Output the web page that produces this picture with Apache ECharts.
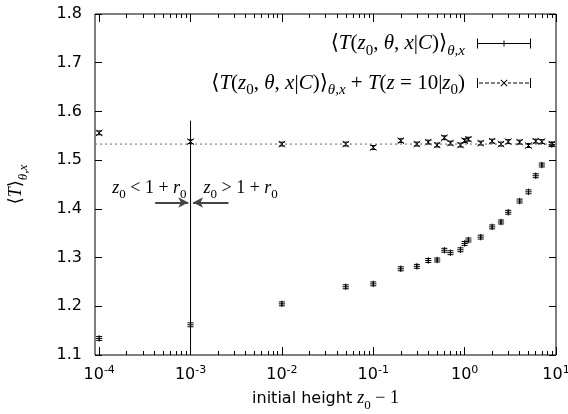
<!DOCTYPE html>
<html><head><meta charset="utf-8">
<script src="https://cdn.jsdelivr.net/npm/echarts@6/dist/echarts.min.js"></script>
<style>html,body{margin:0;padding:0;background:#fff}#c{width:568px;height:414px}</style>
</head><body><div id="c"></div>
<script>
// initial heights z0 - 1
const heights = [1e-4, 1e-3, 1e-2, 0.05, 0.1, 0.2, 0.3, 0.4, 0.5, 0.6, 0.7, 0.9, 1.0, 1.1, 1.5, 2, 2.5, 3, 4, 5, 6, 7, 9];
// <T(z0,theta,x|C)>_{theta,x}
const meanT = [1.134, 1.162, 1.205, 1.240, 1.246, 1.277, 1.282, 1.294, 1.295, 1.315, 1.310, 1.316, 1.329, 1.336, 1.342, 1.363, 1.373, 1.393, 1.416, 1.435, 1.468, 1.490, 1.532];
const meanTErr = [0.004, 0.004, 0.004, 0.004, 0.004, 0.004, 0.004, 0.004, 0.004, 0.004, 0.004, 0.004, 0.004, 0.004, 0.004, 0.004, 0.004, 0.004, 0.004, 0.004, 0.004, 0.004, 0.004];
// <T>_{theta,x} + T(z=10|z0)
const totalT = [1.556, 1.538, 1.533, 1.533, 1.526, 1.540, 1.533, 1.537, 1.531, 1.546, 1.535, 1.531, 1.540, 1.543, 1.535, 1.539, 1.533, 1.538, 1.537, 1.530, 1.539, 1.538, 1.533];
const totalTErr = [0.004, 0.004, 0.004, 0.004, 0.004, 0.004, 0.004, 0.004, 0.004, 0.004, 0.004, 0.004, 0.004, 0.004, 0.004, 0.004, 0.004, 0.004, 0.004, 0.004, 0.004, 0.004, 0.004];
const plateauT = 1.533;
const boundaryHeight = 1e-3;
const boundaryTop = 1.581;
const arrowLevel = 1.413;
const arrowLeftStart = 4.1e-4, arrowLeftEnd = 9.45e-4;
const arrowRightStart = 2.6e-3, arrowRightEnd = 1.065e-3;
const annotationLevel = 1.443;
const xMin = 9e-5, xMax = 10;
const yMin = 1.1, yMax = 1.8, yStep = 0.1;
const xMajorTicks = [1e-4, 1e-3, 1e-2, 1e-1, 1, 10];
const xMinorTicks = [];
for (let k = -4; k <= 0; k++) for (let m = 2; m <= 9; m++) xMinorTicks.push(m * Math.pow(10, k));

const SERIF = '"Liberation Serif","DejaVu Serif",serif';
const SANS = '"DejaVu Sans",sans-serif';
function mathRich(size, sub) {
  return {
    n: {fontFamily: SERIF, fontSize: size, color: '#000', lineHeight: size + 3},
    i: {fontFamily: SERIF, fontSize: size, fontStyle: 'italic', color: '#000', lineHeight: size + 3},
    s: {fontFamily: SERIF, fontSize: sub, color: '#000', lineHeight: sub, verticalAlign: 'bottom', padding: [0, 0, -3, 0]},
    si: {fontFamily: SERIF, fontSize: sub, fontStyle: 'italic', color: '#000', lineHeight: sub, verticalAlign: 'bottom', padding: [0, 0, -3, 0]},
    a: {fontFamily: SANS, fontSize: 16, color: '#000', lineHeight: 20}
  };
}
const rich = mathRich(18, 13);
const legendRich = mathRich(21, 15);
const noteRich = mathRich(18, 13);

function makeRender(kind) {
  return function (params, api) {
    const x = api.value(0), y = api.value(1), e = api.value(2);
    const c = api.coord([x, y]), t = api.coord([x, y + e]), b = api.coord([x, y - e]);
    const w = 3, s = 3.2;
    const st = {stroke: '#000', lineWidth: 1, fill: null};
    const ch = [
      {type: 'line', shape: {x1: c[0], y1: t[1], x2: c[0], y2: b[1]}, style: st},
      {type: 'line', shape: {x1: c[0] - w, y1: t[1], x2: c[0] + w, y2: t[1]}, style: st},
      {type: 'line', shape: {x1: c[0] - w, y1: b[1], x2: c[0] + w, y2: b[1]}, style: st}
    ];
    if (kind === 'plus') {
      ch.push({type: 'line', shape: {x1: c[0] - s, y1: c[1], x2: c[0] + s, y2: c[1]}, style: st});
      ch.push({type: 'line', shape: {x1: c[0], y1: c[1] - s, x2: c[0], y2: c[1] + s}, style: st});
    } else {
      ch.push({type: 'line', shape: {x1: c[0] - s, y1: c[1] - s, x2: c[0] + s, y2: c[1] + s}, style: st});
      ch.push({type: 'line', shape: {x1: c[0] - s, y1: c[1] + s, x2: c[0] + s, y2: c[1] - s}, style: st});
    }
    return {type: 'group', children: ch};
  };
}

const iconMean = 'path://M0,0L1,0L1,4.5L26.5,4.5L26.5,2L27.5,2L27.5,4.5L53,4.5L53,0L54,0L54,10L53,10L53,5.5L27.5,5.5L27.5,8L26.5,8L26.5,5.5L1,5.5L1,10L0,10Z';
const iconTotal = 'path://M0,0L1,0L1,10L0,10Z M53,0L54,0L54,10L53,10Z M2,4.5L6,4.5L6,5.5L2,5.5Z M8,4.5L12,4.5L12,5.5L8,5.5Z M14,4.5L18,4.5L18,5.5L14,5.5Z M20,4.5L23,4.5L23,5.5L20,5.5Z M31,4.5L34,4.5L34,5.5L31,5.5Z M36,4.5L40,4.5L40,5.5L36,5.5Z M42,4.5L46,4.5L46,5.5L42,5.5Z M48,4.5L52,4.5L52,5.5L48,5.5Z M23.5,2.3L24.2,1.6L30.5,7.7L29.8,8.4Z M29.8,1.6L30.5,2.3L24.2,8.4L23.5,7.7Z';

const labelMean = '{n|⟨}{i|T}{n|(}{i|z}{s|0}{n|, }{i|θ}{n|, }{i|x}{n||}{i|C}{n|)⟩}{si|θ,x}';
const labelTotal = labelMean + '{n| + }{i|T}{n|(}{i|z}{n| = 10|}{i|z}{s|0}{n|)}';

const chart = echarts.init(document.getElementById('c'), null, {renderer: 'canvas'});
const xAxisBase = {type: 'log', min: xMin, max: xMax, gridIndex: 0, splitLine: {show: false}, axisLine: {show: false}};
chart.setOption({
  animation: false,
  backgroundColor: '#fff',
  grid: {left: 95, right: 12, top: 14, bottom: 59, show: true, borderColor: '#000', borderWidth: 1, containLabel: false, outerBoundsMode: 'none'},
  legend: {
    orient: 'vertical', align: 'right', right: 32, top: 28, itemWidth: 54, itemHeight: 10, itemGap: 14,
    selectedMode: false,
    data: [{name: 'mean', icon: iconMean}, {name: 'total', icon: iconTotal}],
    formatter: name => name === 'mean' ? labelMean : labelTotal,
    textStyle: {fontFamily: SERIF, fontSize: 21, color: '#000', padding: [0, 7, 0, 0], rich: legendRich}
  },
  xAxis: [
    Object.assign({}, xAxisBase, {
      position: 'bottom',
      name: '{a|initial height }{i|z}{s|0}{n| − 1}', nameLocation: 'middle', nameGap: 33,
      nameTextStyle: {rich: rich},
      axisTick: {inside: true, length: 8, lineStyle: {color: '#000'}, customValues: xMajorTicks},
      axisLabel: {
        margin: 10, customValues: xMajorTicks,
        formatter: v => '{b|10}{p|' + Math.round(Math.log10(v)) + '}',
        rich: {b: {fontFamily: SANS, fontSize: 16, color: '#000', lineHeight: 20}, p: {fontFamily: SANS, fontSize: 11, color: '#000', lineHeight: 11, verticalAlign: 'top', padding: [0, 0, 8, 0]}}
      }
    }),
    Object.assign({}, xAxisBase, {position: 'bottom', axisTick: {inside: true, length: 4, lineStyle: {color: '#000'}, customValues: xMinorTicks}, axisLabel: {show: false}}),
    Object.assign({}, xAxisBase, {position: 'top', axisTick: {inside: true, length: 8, lineStyle: {color: '#000'}, customValues: xMajorTicks}, axisLabel: {show: false}}),
    Object.assign({}, xAxisBase, {position: 'top', axisTick: {inside: true, length: 4, lineStyle: {color: '#000'}, customValues: xMinorTicks}, axisLabel: {show: false}})
  ],
  yAxis: [
    {
      type: 'value', min: yMin, max: yMax, interval: yStep, position: 'left',
      name: '{n|⟨}{i|T}{n|⟩}{si|θ,x}', nameLocation: 'middle', nameGap: 68, nameTextStyle: {rich: rich},
      splitLine: {show: false}, axisLine: {show: false},
      axisTick: {inside: true, length: 7, lineStyle: {color: '#000'}},
      axisLabel: {margin: 13, fontFamily: SANS, fontSize: 16, color: '#000', formatter: v => v.toFixed(1)}
    },
    {
      type: 'value', min: yMin, max: yMax, interval: yStep, position: 'right',
      splitLine: {show: false}, axisLine: {show: false},
      axisTick: {inside: true, length: 7, lineStyle: {color: '#000'}},
      axisLabel: {show: false}
    }
  ],
  series: [
    {
      name: 'plateau', type: 'line', xAxisIndex: 0, yAxisIndex: 0, symbol: 'none', silent: true,
      lineStyle: {color: '#666', width: 1, type: [2, 3]},
      data: [[xMin, plateauT], [xMax, plateauT]]
    },
    {
      name: 'boundary', type: 'line', xAxisIndex: 0, yAxisIndex: 0, symbol: 'none', silent: true,
      lineStyle: {color: '#000', width: 1},
      data: [[boundaryHeight, yMin], [boundaryHeight, boundaryTop]],
      markLine: {
        silent: true, symbol: ['none', 'arrow'], symbolSize: [8, 10],
        lineStyle: {color: '#444', width: 2, type: 'solid'}, label: {show: false},
        data: [
          [{coord: [arrowLeftStart, arrowLevel]}, {coord: [arrowLeftEnd, arrowLevel]}],
          [{coord: [arrowRightStart, arrowLevel]}, {coord: [arrowRightEnd, arrowLevel]}]
        ]
      },
      markPoint: {
        silent: true, symbol: 'circle', symbolSize: 0,
        data: [
          {coord: [boundaryHeight, annotationLevel], label: {show: true, position: 'left', distance: 4, formatter: '{i|z}{s|0}{n| < 1 + }{i|r}{s|0}', rich: noteRich}},
          {coord: [boundaryHeight, annotationLevel], label: {show: true, position: 'right', distance: 13, formatter: '{i|z}{s|0}{n| > 1 + }{i|r}{s|0}', rich: noteRich}}
        ]
      }
    },
    {
      name: 'mean', type: 'custom', xAxisIndex: 0, yAxisIndex: 0, silent: true,
      itemStyle: {color: '#000'},
      encode: {x: 0, y: 1},
      renderItem: makeRender('plus'),
      data: heights.map((h, i) => [h, meanT[i], meanTErr[i]])
    },
    {
      name: 'total', type: 'custom', xAxisIndex: 0, yAxisIndex: 0, silent: true,
      itemStyle: {color: '#000'},
      encode: {x: 0, y: 1},
      renderItem: makeRender('cross'),
      data: heights.map((h, i) => [h, totalT[i], totalTErr[i]])
    }
  ]
});
</script></body></html>
